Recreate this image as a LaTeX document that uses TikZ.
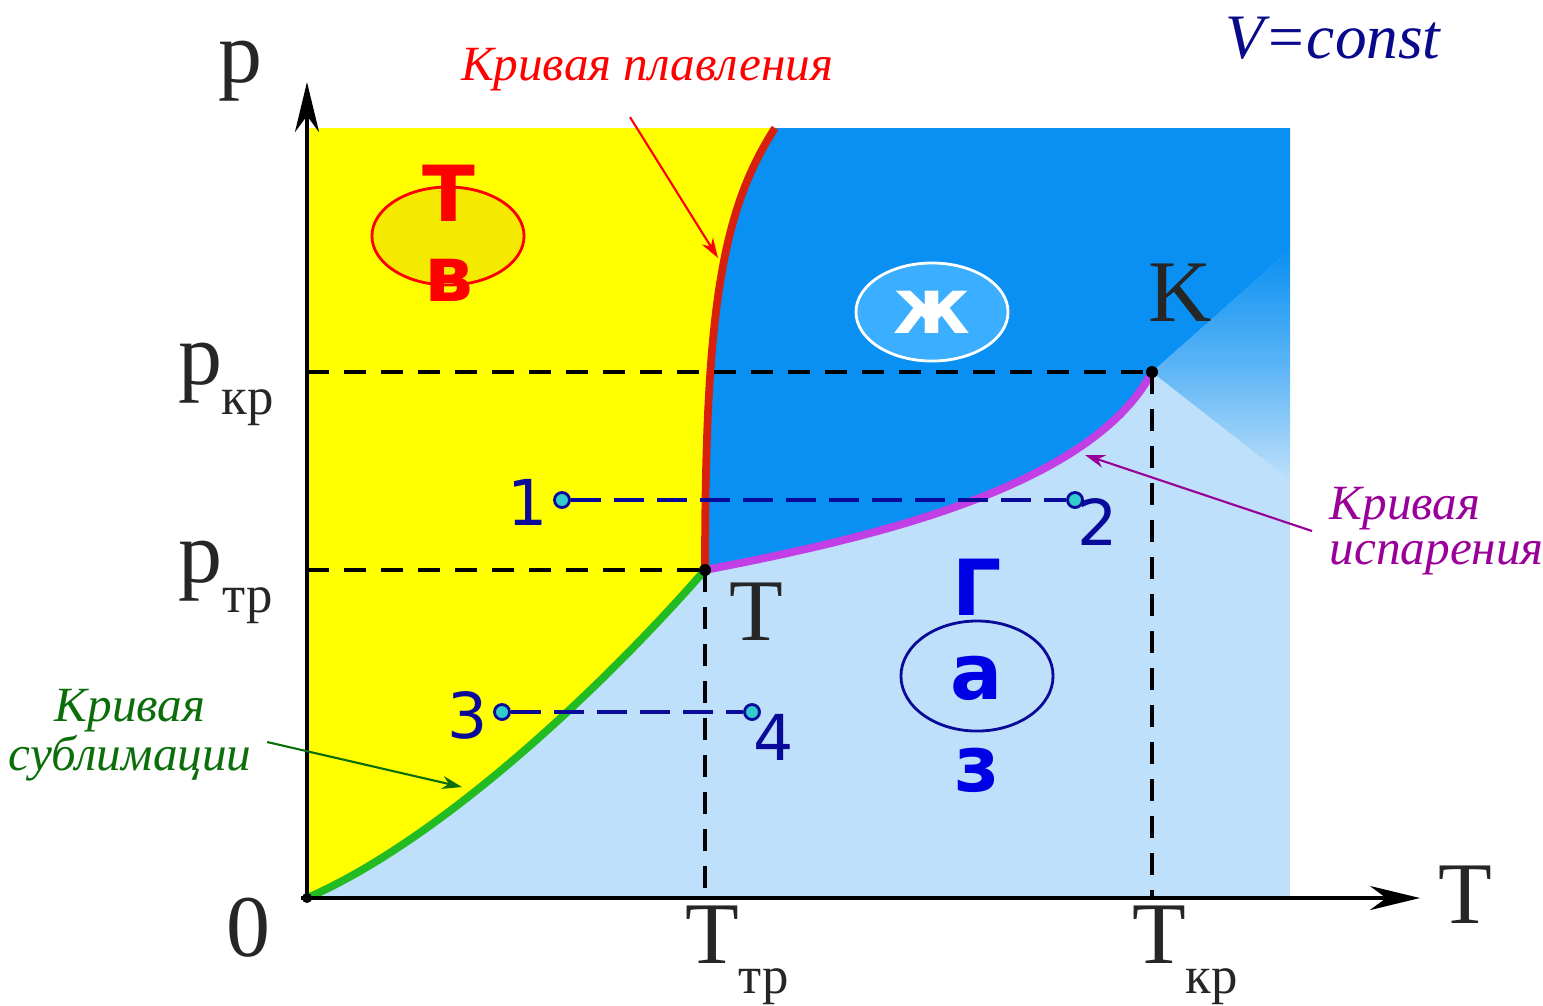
\documentclass[tikz,border=0pt]{standalone}
\usepackage{fontspec}
\setmainfont{Liberation Serif}[ItalicFont={Liberation Serif Italic}, BoldFont={Liberation Serif Bold}]
\setsansfont{DejaVu Sans}
\usetikzlibrary{arrows.meta,shapes.geometric,positioning}
\definecolor{solidY}{HTML}{FFFF00}
\definecolor{solidE}{HTML}{F4EA00}
\definecolor{liqB}{HTML}{0A90F2}
\definecolor{liqE}{HTML}{3CAEFF}
\definecolor{gasB}{HTML}{BEE0FA}
\definecolor{meltR}{HTML}{D8200C}
\definecolor{subG}{HTML}{22BB22}
\definecolor{vapM}{HTML}{C23FE6}
\definecolor{navy}{HTML}{0A0A9A}
\definecolor{procC}{HTML}{33CCCC}
\definecolor{noteP}{HTML}{990099}
\definecolor{noteG}{HTML}{0B6E0B}
\newcommand{\lbl}[2]{#1\raisebox{-0.34em}{\fontsize{15}{15}\selectfont #2}}

\begin{document}
\begin{tikzpicture}[x=0.01cm, y=-0.01cm,
  axlbl/.style={font=\fontsize{25}{30}\selectfont, text=black!85, inner sep=0pt},
  phase/.style={font=\sffamily\bfseries\fontsize{22}{24}\selectfont, inner sep=0pt},
  bubble/.style={ellipse, minimum width=1.52cm, minimum height=0.98cm, line width=0.8pt},
  guide/.style={dash pattern=on 0.22cm off 0.15cm, line width=1.3pt},
  proc/.style={navy, dash pattern=on 0.3cm off 0.13cm, line width=1pt},
  procpt/.style={circle, draw=navy, fill=procC, line width=0.8pt, inner sep=0pt, minimum size=0.15cm},
  num/.style={navy, font=\sffamily\fontsize{18}{20}\selectfont, inner sep=0pt},
  note/.style={-{Stealth[length=2mm,width=1.3mm]}, line width=0.6pt},
  notetext/.style={font=\itshape\fontsize{14}{13}\selectfont, inner sep=2pt},
  phaseline/.style={line width=2.2pt},
  axisarrow/.style={-{Stealth[length=5mm,width=2.4mm]}, line width=1.3pt}
]
  \useasboundingbox (0,0) rectangle (1543,1005);

  \coordinate (O) at (307,898);
  \coordinate (Tp) at (705,570);
  \coordinate (K) at (1152,372);
  \coordinate (meltTop) at (775,128);
  \coordinate (yEnd) at (307,82);
  \coordinate (xEnd) at (1420,898);

  % phase regions
  \fill[gasB] (307,128) rectangle (1290,898);
  \fill[liqB] (Tp) .. controls (705,310) and (722,210) .. (meltTop)
    -- (1290,128) -- (1290,250) -- (K)
    .. controls (1090,490) and (860,540) .. (Tp) -- cycle;
  \shade[top color=liqB, bottom color=gasB, middle color=gasB!45!liqB] (K) -- (1290,250) -- (1290,480) -- cycle;
  \fill[solidY] (307,128) -- (meltTop) .. controls (722,210) and (705,310) .. (Tp)
    .. controls (600,690) and (440,840) .. (O) -- cycle;

  % phase boundaries
  \draw[phaseline, meltR] (Tp) .. controls (705,310) and (722,210) .. (meltTop);
  \draw[phaseline, vapM] (Tp) .. controls (860,540) and (1090,490) .. (K);
  \draw[phaseline, subG] (O) .. controls (440,840) and (600,690) .. (Tp);

  % critical and triple point guides
  \draw[guide] (O |- K) -- (K);
  \draw[guide] (O |- Tp) -- (Tp);
  \draw[guide] (Tp) -- (Tp |- O);
  \draw[guide] (K) -- (K |- O);
  \fill (K) circle (6);
  \fill (Tp) circle (6);

  % axes
  \draw[axisarrow] (O) -- (yEnd);
  \draw[axisarrow] ([xshift=-0.06cm]O) -- (xEnd);
  \fill (O) circle (5);

  \node[axlbl] (plbl) at (240,71) {p};
  \node[axlbl] (Tlbl) at (1465,895) {T};
  \node[axlbl] (zero) at (248,928) {0};
  \node[axlbl] (pkr) at (226,384) {\lbl{p}{кр}};
  \node[axlbl] (ptr) at (226,582) {\lbl{p}{тр}};
  \node[axlbl] (Ttr) at (737,955) {\lbl{T}{тр}};
  \node[axlbl] (Tkr) at (1185,955) {\lbl{T}{кр}};
  \node[axlbl] (Klbl) at (1180,293) {K};
  \node[axlbl] (Ttlbl) at (756,612) {T};

  \node[text=navy!90!black, font=\itshape\fontsize{18}{20}\selectfont] (vc) at (1333,38) {V=const};

  % phases
  \node[bubble, draw=red, fill=solidE] (solidEll) at (448,236) {};
  \node[phase, red] (solidT) at (449,193) {Т};
  \node[phase, red] (solidV) at (449,280) {в};
  \node[bubble, draw=white, fill=liqE] (liqEll) at (932,312) {};
  \node[phase, white] (liqZh) at (932,312) {ж};
  \node[bubble, draw=navy, fill=gasB, minimum height=1.1cm] (gasEll) at (977,676) {};
  \node[phase, blue!90!black] (gasG) at (977,587) {Г};
  \node[phase, blue!90!black] (gasA) at (977,678) {а};
  \node[phase, blue!90!black] (gasZ) at (977,770) {з};

  % processes
  \node[procpt] (p1) at (562,500) {};
  \node[procpt] (p2) at (1075,500) {};
  \node[procpt] (p3) at (502,712) {};
  \node[procpt] (p4) at (752,712) {};
  \draw[proc] (p1) -- (p2);
  \draw[proc] (p3) -- (p4);
  \node[num] (n1) at (528,502) {1};
  \node[num] (n2) at (1098,522) {2};
  \node[num] (n3) at (468,715) {3};
  \node[num] (n4) at (774,737) {4};

  % curve names
  \node[notetext, text=red] (melt) at (647,70) {Кривая плавления};
  \coordinate (meltTip) at (718,258);
  \draw[note, red] ([shift={(-17,18)}]melt.south) -- (meltTip);
  \node[notetext, text=noteP, align=left, anchor=west] (isp) at (1322,531) {Кривая\\испарения};
  \coordinate (ispTip) at (1085,455);
  \draw[note, noteP] ([xshift=-0.1cm]isp.west) -- (ispTip);
  \node[notetext, text=noteG, align=center] (subl) at (130,735) {Кривая\\сублимации};
  \coordinate (sublTip) at (462,787);
  \draw[note, noteG] ([shift={(8,7)}]subl.east) -- (sublTip);
\end{tikzpicture}
\end{document}
